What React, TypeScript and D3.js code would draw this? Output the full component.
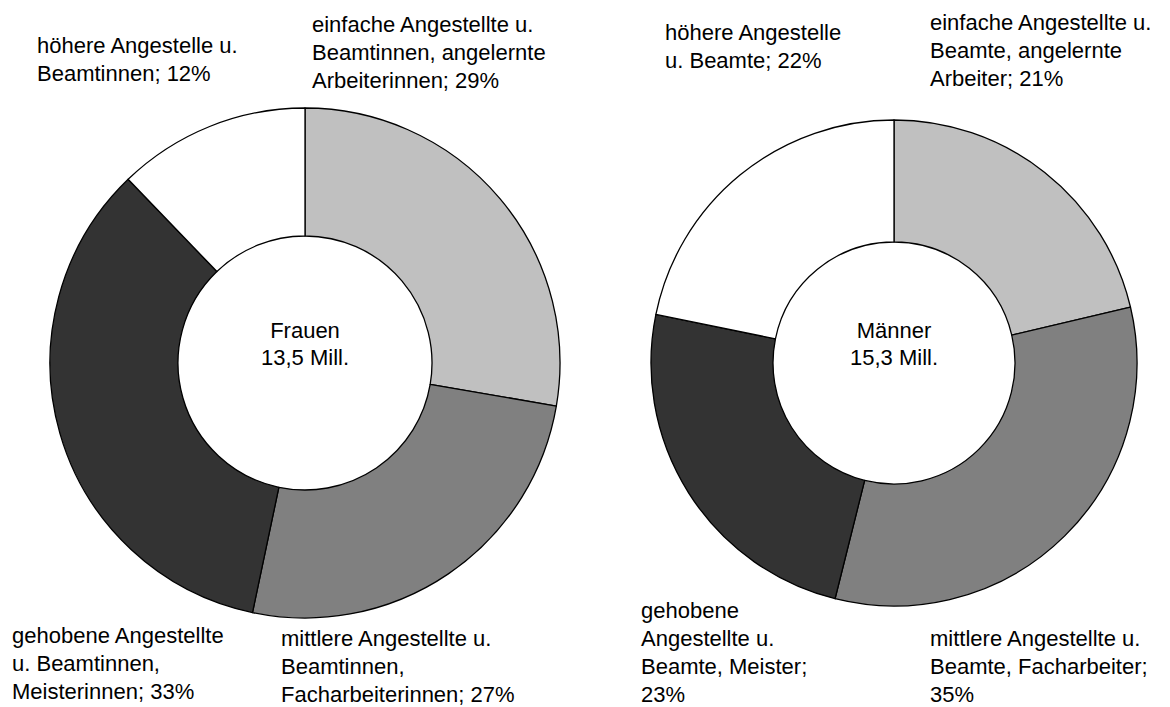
import React from "react";
import * as d3 from "d3";

// Slice shares (clockwise from 12 o'clock)
const categories = ["einfache", "mittlere", "gehobene", "höhere"];
const fills = ["#c0c0c0", "#808080", "#333333", "#ffffff"];
const frauenValues = [27.7, 25.6, 34.5, 12.2];
const maennerValues = [21.3, 32.6, 24.3, 21.8];

const frauenCenter = ["Frauen", "13,5 Mill."];
const maennerCenter = ["Männer", "15,3 Mill."];

const frauenLabels = [
  ["einfache Angestellte u.", "Beamtinnen, angelernte", "Arbeiterinnen; 29%"],
  ["mittlere Angestellte u.", "Beamtinnen,", "Facharbeiterinnen; 27%"],
  ["gehobene Angestellte", "u. Beamtinnen,", "Meisterinnen; 33%"],
  ["höhere Angestelle u.", "Beamtinnen; 12%"],
];
const maennerLabels = [
  ["einfache Angestellte u.", "Beamte, angelernte", "Arbeiter; 21%"],
  ["mittlere Angestellte u.", "Beamte, Facharbeiter;", "35%"],
  ["gehobene", "Angestellte u.", "Beamte, Meister;", "23%"],
  ["höhere Angestelle", "u. Beamte; 22%"],
];

const W = 1170;
const H = 707;
const FONT = "'Liberation Sans', Arial, sans-serif";
const FS = 22;
const LH = 28;

type Donut = {
  cx: number;
  cy: number;
  r: number;
  ri: number;
  values: number[];
  center: string[];
  labels: string[][];
  labelPos: [number, number][];
};

const donuts: Donut[] = [
  {
    cx: 305,
    cy: 363,
    r: 255,
    ri: 127,
    values: frauenValues,
    center: frauenCenter,
    labels: frauenLabels,
    labelPos: [
      [312, 32],
      [281, 646],
      [12, 643],
      [37, 53],
    ],
  },
  {
    cx: 894,
    cy: 363,
    r: 243,
    ri: 121,
    values: maennerValues,
    center: maennerCenter,
    labels: maennerLabels,
    labelPos: [
      [930, 30],
      [930, 646],
      [641, 618],
      [665, 40],
    ],
  },
];

function DonutChart({ d }: { d: Donut }) {
  const pie = d3
    .pie<number>()
    .sort(null)
    .value((v) => v);
  const arcs = pie(d.values);
  const arc = d3.arc<d3.PieArcDatum<number>>().innerRadius(d.ri).outerRadius(d.r);
  return (
    <g>
      <g transform={`translate(${d.cx},${d.cy})`}>
        {arcs.map((a, i) => (
          <path
            key={categories[i]}
            d={arc(a) || ""}
            fill={fills[i]}
            stroke="#000"
            strokeWidth={1.3}
            strokeLinejoin="round"
          />
        ))}
        {d.center.map((t, i) => (
          <text
            key={i}
            x={0}
            y={-25 + i * 27}
            textAnchor="middle"
            fontFamily={FONT}
            fontSize={FS}
            fill="#000"
          >
            {t}
          </text>
        ))}
      </g>
      {d.labels.map((lines, i) => (
        <text
          key={i}
          x={d.labelPos[i][0]}
          y={d.labelPos[i][1]}
          fontFamily={FONT}
          fontSize={FS}
          fill="#000"
        >
          {lines.map((ln, j) => (
            <tspan key={j} x={d.labelPos[i][0]} y={d.labelPos[i][1] + j * LH}>
              {ln}
            </tspan>
          ))}
        </text>
      ))}
    </g>
  );
}

export default function App() {
  return (
    <svg
      width={W}
      height={H}
      style={{ position: "absolute", left: 0, top: 0, background: "#fff" }}
    >
      <rect width={W} height={H} fill="#fff" />
      {donuts.map((d, i) => (
        <DonutChart key={i} d={d} />
      ))}
    </svg>
  );
}
